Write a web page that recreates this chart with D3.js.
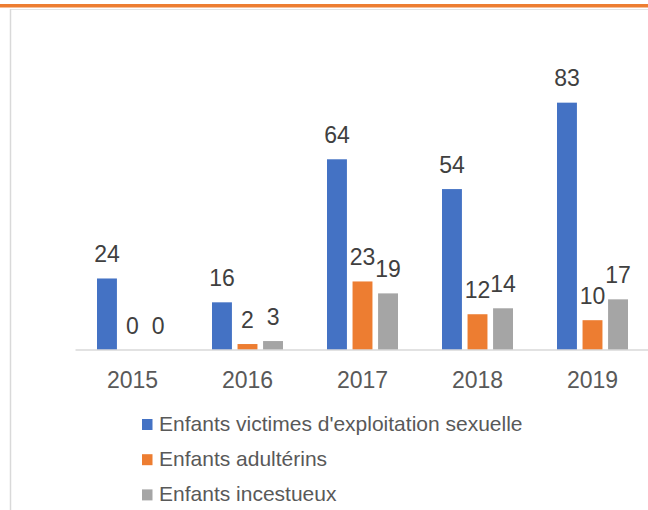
<!DOCTYPE html>
<html><head><meta charset="utf-8">
<script src="https://cdn.jsdelivr.net/npm/d3@7"></script>
<style>body{margin:0;background:#fff}svg{display:block;font-family:Arial,"Liberation Sans",sans-serif}</style>
</head><body><svg id="c" width="648" height="510"></svg>
<script>
const years = ["2015","2016","2017","2018","2019"];
const seriesNames = ["Enfants victimes d'exploitation sexuelle","Enfants adultérins","Enfants incestueux"];
const exploitation = [24,16,64,54,83];
const adulterins = [0,2,23,12,10];
const incestueux = [0,3,19,14,17];
const colors = ["#4472C4","#ED7D31","#A5A5A5"];

const series = [exploitation, adulterins, incestueux];
const svg = d3.select("#c");

// top orange rule and chart frame
svg.append("rect").attr("x",0).attr("y",4).attr("width",648).attr("height",3.5).attr("fill","#ED7D31");
svg.append("line").attr("x1",10.5).attr("x2",648).attr("y1",9.5).attr("y2",9.5).attr("stroke","#e3e3e3").attr("stroke-width",1);
svg.append("line").attr("x1",10.5).attr("x2",10.5).attr("y1",9).attr("y2",510).attr("stroke","#d9d9d9").attr("stroke-width",1.5);

const x0 = d3.scaleBand().domain(years).range([75,650]).padding(0);
const groupW = 71;
const x1 = d3.scaleBand().domain(d3.range(3)).range([0,groupW]).paddingInner(0.22);
const y = d3.scaleLinear().domain([0,100]).range([350,52]);

const g = svg.append("g");
years.forEach((yr,i)=>{
  const gx = x0(yr) + (x0.bandwidth()-groupW)/2;
  series.forEach((s,j)=>{
    const v = s[i];
    const bx = gx + x1(j);
    if (v>0) g.append("rect").attr("x",bx).attr("y",y(v)).attr("width",x1.bandwidth()).attr("height",y(0)-y(v)).attr("fill",colors[j]);
    g.append("text").attr("x",bx+x1.bandwidth()/2).attr("y",y(v)-16.5).attr("text-anchor","middle")
      .attr("font-size",23).attr("fill","#404040").text(v);
  });
});

// x axis
const xAxis = d3.axisBottom(x0).tickSize(0).tickPadding(0);
const ax = svg.append("g").attr("transform","translate(0,349.5)").call(xAxis);
ax.select(".domain").attr("stroke","#d9d9d9").attr("stroke-width",1.5);
ax.selectAll("text").attr("font-size",23).attr("fill","#595959").attr("font-family","Arial,'Liberation Sans',sans-serif")
  .attr("dy",null).attr("y",38);

// legend
const leg = svg.append("g");
seriesNames.forEach((n,j)=>{
  const cy = 424.5 + j*35.2;
  leg.append("rect").attr("x",142).attr("y",cy-5.5).attr("width",10.5).attr("height",11).attr("fill",colors[j]);
  leg.append("text").attr("x",159).attr("y",cy+6.5).attr("font-size",21).attr("fill","#595959").text(n);
});
</script></body></html>
